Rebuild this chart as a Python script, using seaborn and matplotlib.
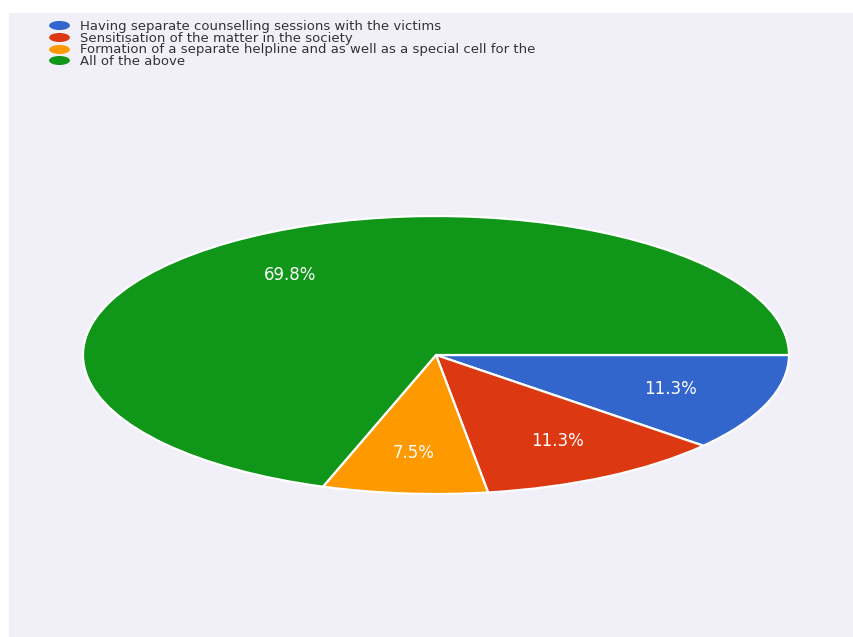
import matplotlib
matplotlib.use("Agg")
import matplotlib.pyplot as plt
from matplotlib.patches import Rectangle
from matplotlib.lines import Line2D
from matplotlib.path import Path
from matplotlib.transforms import Affine2D
import seaborn as sns

# Survey responses (counts out of 53)
categories = [
    "Having separate counselling sessions with the victims",
    "Sensitisation of the matter in the society",
    "Formation of a separate helpline and as well as a special cell for the",
    "All of the above",
]
counts = [6, 6, 4, 37]
colors = ["#3366cc", "#dc3912", "#ff9900", "#109618"]

sns.set_theme(style="white")
plt.rcParams["font.family"] = ["DejaVu Sans"]
palette = sns.color_palette(colors)

W, H = 854, 637
fig = plt.figure(figsize=(W / 100, H / 100), dpi=100, facecolor="white")

# light panel behind the chart
fig.patches.append(Rectangle((9 / W, 0), 1, (H - 13) / H, transform=fig.transFigure,
                             facecolor="#f1f0f9", edgecolor="none", zorder=-5))

# axes spanning the (horizontally stretched) pie
cx, cy, rx, ry = 436, 355, 353, 139
ax = fig.add_axes([(cx - rx) / W, (H - cy - ry) / H, 2 * rx / W, 2 * ry / H])
ax.set_facecolor("none")
ax.set_zorder(2)

wedges, texts, autotexts = ax.pie(
    counts,
    colors=palette,
    startangle=0,
    counterclock=False,
    autopct="%.1f%%",
    pctdistance=0.71,
    wedgeprops=dict(edgecolor="white", linewidth=1.6),
    textprops=dict(color="white", fontsize=12),
)
ax.set_aspect("auto")
ax.set_xlim(-1, 1)
ax.set_ylim(-1, 1)
ax.axis("off")

# legend with flattened round markers
ellipse = Path(Affine2D().scale(2.3, 1.0).transform(Path.unit_circle().vertices),
               Path.unit_circle().codes)
handles = [Line2D([], [], linestyle="none", marker=ellipse, markersize=15,
                  markerfacecolor=c, markeredgecolor="none") for c in palette]
leg = fig.legend(handles, categories, loc="upper left",
                 bbox_to_anchor=(48 / W, 1 - 20 / H), frameon=False,
                 fontsize=9.5, labelspacing=-0.1, handlelength=1.6, handletextpad=0.8,
                 borderpad=0, borderaxespad=0, labelcolor="#333333")
leg.set_zorder(3)

fig.savefig("out.png", dpi=100, facecolor="white")
